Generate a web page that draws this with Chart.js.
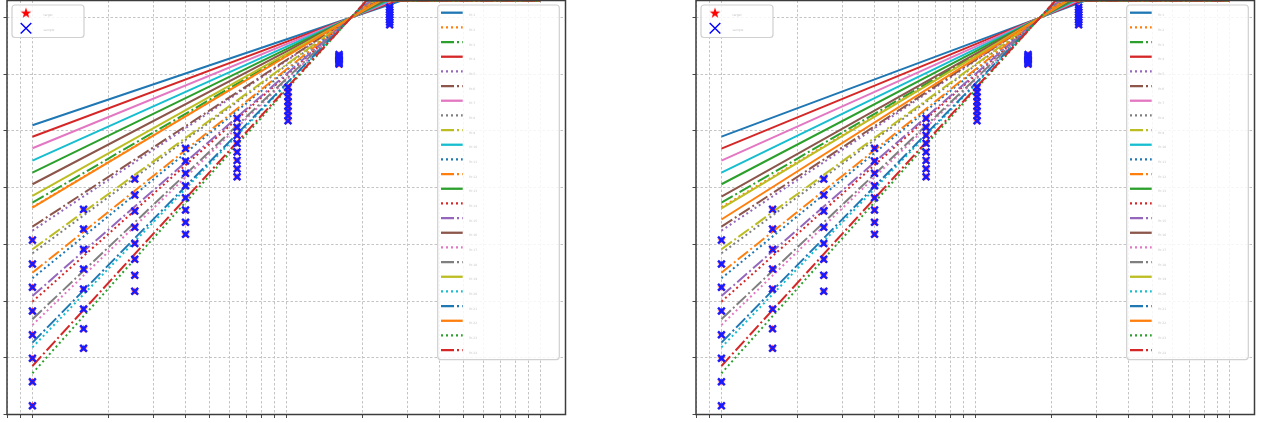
<!DOCTYPE html>
<html>
<head>
<meta charset="utf-8">
<title>Convergence fits</title>
<script src="https://cdn.jsdelivr.net/npm/chart.js@4.4.1/dist/chart.umd.min.js"></script>
<style>
  html, body { margin: 0; padding: 0; background: #ffffff; width: 1266px; height: 423px; overflow: hidden; }
  .panel { position: absolute; top: 0; width: 583px; height: 423px; }
  #panelLeft { left: 0; }
  #panelRight { left: 689px; }
</style>
</head>
<body>
<div class="panel" id="panelLeft"><canvas id="chartLeft" width="583" height="423"></canvas></div>
<div class="panel" id="panelRight"><canvas id="chartRight" width="583" height="423"></canvas></div>
<script>
// ---------------- data ----------------
// axis ticks (log x, log y)
const xTicks = [0.8, 0.9, 1, 2, 3, 4, 5, 6, 7, 8, 9, 10, 20, 30, 40, 50, 60, 70, 80, 90, 100];
const yTicks = [1e-5, 1e-4, 1e-3, 1e-2, 1e-1, 1, 10, 100];
const yTickExponents = ['\u22125', '\u22124', '\u22123', '\u22122', '\u22121', '0', '1', '2'];
const xRange = [0.794, 125.9];
const yRange = [1e-5, 200];

// every fitted line runs from x = 1 through the common point, then is capped
const xFirst = 1;
const xLast = 100;
const pivotX = 18;
const pivotY = 100;
const capY = 200;

const lineLabels = [
  'fit 1', 'fit 2', 'fit 3', 'fit 4', 'fit 5', 'fit 6', 'fit 7', 'fit 8',
  'fit 9', 'fit 10', 'fit 11', 'fit 12', 'fit 13', 'fit 14', 'fit 15', 'fit 16',
  'fit 17', 'fit 18', 'fit 19', 'fit 20', 'fit 21', 'fit 22', 'fit 23', 'fit 24'
];

// value of each line at x = 1
const startLeft = [
  1.26, 4.53e-2, 5.43e-2, 7.93e-1, 1.75e-2, 2.05e-2, 4.95e-1, 6.97e-3,
  8.20e-3, 2.99e-1, 2.52e-3, 3.17e-3, 1.84e-1, 9.76e-4, 1.23e-3, 1.15e-1,
  3.79e-4, 4.78e-4, 7.14e-2, 1.53e-4, 1.85e-4, 4.44e-2, 5.33e-5, 7.17e-5
];
const startRight = [
  7.94e-1, 4.53e-2, 5.43e-2, 4.87e-1, 1.75e-2, 2.05e-2, 2.99e-1, 6.97e-3,
  8.20e-3, 1.84e-1, 2.52e-3, 3.17e-3, 1.15e-1, 9.76e-4, 1.23e-3, 6.94e-2,
  3.79e-4, 4.78e-4, 4.33e-2, 1.53e-4, 1.85e-4, 2.75e-2, 5.33e-5, 7.17e-5
];

// x where each line reaches the cap
const capXLeft = [
  28.5, 23.3, 23.5, 27.2, 22.7, 22.8, 26.2, 22.2,
  22.3, 25.4, 21.7, 21.8, 24.7, 21.4, 21.5, 24.2,
  21.1, 21.2, 23.7, 20.9, 20.9, 23.3, 20.7, 20.7
];
const capXRight = [
  27.2, 23.3, 23.5, 26.2, 22.7, 22.8, 25.4, 22.2,
  22.3, 24.7, 21.7, 21.8, 24.2, 21.4, 21.5, 23.7,
  21.1, 21.2, 23.3, 20.9, 20.9, 23.0, 20.7, 20.7
];

// sampled points, eight runs per x position
const sampleX = [1.0, 1.59, 2.53, 4.01, 6.40, 10.16, 16.14, 25.55];
const sampleY = [
  [1.19e-2, 4.51e-3, 1.75e-3, 6.68e-4, 2.55e-4, 9.79e-5, 3.78e-5, 1.43e-5],
  [4.15e-2, 1.87e-2, 8.18e-3, 3.68e-3, 1.63e-3, 7.24e-4, 3.26e-4, 1.47e-4],
  [1.42e-1, 7.43e-2, 3.87e-2, 2.00e-2, 1.04e-2, 5.46e-3, 2.85e-3, 1.49e-3],
  [4.94e-1, 2.95e-1, 1.79e-1, 1.08e-1, 6.65e-2, 4.04e-2, 2.45e-2, 1.51e-2],
  [1.67, 1.16, 8.38e-1, 6.05e-1, 4.26e-1, 3.03e-1, 2.16e-1, 1.56e-1],
  [5.89, 4.86, 4.02, 3.30, 2.73, 2.25, 1.85, 1.52],
  [22.3, 21.1, 20.0, 18.9, 17.8, 16.9, 16.0, 15.1],
  [152, 137, 124, 112, 101, 91.6, 82.8, 74.8]
];
const markerLabels = ['target', 'sample'];
const yAxisTitle = 'error';

// ---------------- styles ----------------
const palette = ['#1f77b4', '#ff7f0e', '#2ca02c', '#d62728', '#9467bd',
                 '#8c564b', '#e377c2', '#7f7f7f', '#bcbd22', '#17becf'];
const dashCycle = [[], [2, 3], [13, 3, 2, 3]];
const gridColor = '#c4c4c4';
const textColor = '#c6c6c6';

function starImage(outer, color) {
  const size = Math.ceil(outer * 2 + 2);
  const c = document.createElement('canvas');
  c.width = size; c.height = size;
  const g = c.getContext('2d');
  const cx = size / 2, cy = size / 2 + outer * 0.08, inner = outer * 0.4;
  g.beginPath();
  for (let k = 0; k < 10; k++) {
    const r = k % 2 ? inner : outer;
    const a = -Math.PI / 2 + k * Math.PI / 5;
    g.lineTo(cx + r * Math.cos(a), cy + r * Math.sin(a));
  }
  g.closePath();
  g.fillStyle = color;
  g.fill();
  return c;
}
const starSmall = starImage(4.2, '#ff0000');
const starLegend = starImage(5.6, '#ff0000');

function buildDatasets(starts, capXs) {
  const sets = lineLabels.map((label, i) => ({
    type: 'line',
    label: label,
    data: [
      { x: xFirst, y: starts[i] },
      { x: pivotX, y: pivotY },
      { x: capXs[i], y: capY },
      { x: xLast, y: capY }
    ],
    borderColor: palette[i % palette.length],
    borderWidth: 2,
    borderDash: dashCycle[i % dashCycle.length],
    borderCapStyle: 'butt',
    borderJoinStyle: 'round',
    pointRadius: 0,
    tension: 0,
    fill: false,
    order: 2 + (lineLabels.length - 1 - i)
  }));
  const pts = [];
  sampleX.forEach((x, c) => sampleY[c].forEach(y => pts.push({ x: x, y: y })));
  sets.push({
    type: 'line', label: markerLabels[0], data: pts, showLine: false,
    pointStyle: starSmall, pointRadius: 4.2, order: 1
  });
  sets.push({
    type: 'line', label: markerLabels[1], data: pts, showLine: false,
    pointStyle: 'crossRot', pointRadius: 4.8, pointBorderWidth: 2.4,
    pointBorderColor: '#1a1aff', pointBackgroundColor: '#1a1aff', order: 0
  });
  return sets;
}

function roundBox(ctx, x, y, w, h, r) {
  ctx.beginPath();
  ctx.moveTo(x + r, y);
  ctx.arcTo(x + w, y, x + w, y + h, r);
  ctx.arcTo(x + w, y + h, x, y + h, r);
  ctx.arcTo(x, y + h, x, y, r);
  ctx.arcTo(x, y, x + w, y, r);
  ctx.closePath();
  ctx.fillStyle = 'rgba(255,255,255,0.85)';
  ctx.fill();
  ctx.lineWidth = 1.2;
  ctx.strokeStyle = '#d0d0d0';
  ctx.stroke();
}

// legends, axis frame and the small axis texts
const decorations = {
  id: 'decorations',
  afterDraw(chart) {
    const ctx = chart.ctx;
    const a = chart.chartArea;
    const sets = chart.data.datasets;
    ctx.save();

    // marker legend (upper left)
    roundBox(ctx, a.left + 5, a.top + 4.5, 72, 32.5, 3);
    ctx.drawImage(starLegend, a.left + 19 - starLegend.width / 2, a.top + 12.2 - starLegend.height / 2);
    ctx.beginPath();
    ctx.strokeStyle = '#0000ff';
    ctx.lineWidth = 1.4;
    const mx = a.left + 19, my = a.top + 27.8, h = 5.3;
    ctx.moveTo(mx - h, my - h); ctx.lineTo(mx + h, my + h);
    ctx.moveTo(mx - h, my + h); ctx.lineTo(mx + h, my - h);
    ctx.stroke();
    ctx.fillStyle = textColor;
    ctx.font = '3px "DejaVu Sans"';
    ctx.textBaseline = 'alphabetic';
    ctx.fillText(markerLabels[0], a.left + 36.5, a.top + 15.2);
    ctx.fillText(markerLabels[1], a.left + 36.5, a.top + 30.8);

    // line legend (upper right)
    const lx = a.left + 430.7, ly = a.top + 4.5;
    roundBox(ctx, lx, ly, 121.6, 354.6, 3);
    const lines = sets.filter(d => d.showLine !== false);
    lines.forEach((d, k) => {
      const y = a.top + 12.2 + 14.67 * k;
      ctx.beginPath();
      ctx.setLineDash(d.borderDash);
      ctx.lineDashOffset = 0;
      ctx.lineCap = 'butt';
      ctx.strokeStyle = d.borderColor;
      ctx.lineWidth = 2.3;
      ctx.moveTo(lx + 3.3, y);
      ctx.lineTo(lx + 25, y);
      ctx.stroke();
      ctx.setLineDash([]);
      ctx.fillStyle = textColor;
      ctx.fillText(d.label, lx + 31.6, y + 3.6);
    });

    // small tick texts and axis title left of the frame
    ctx.font = '2px "DejaVu Sans"';
    ctx.fillStyle = '#b8b8b8';
    const ys = chart.scales.y;
    yTicks.forEach((v, i) => {
      const py = ys.getPixelForValue(v);
      const shift = yTickExponents[i].length > 1 ? 5 : 0;
      ctx.fillText('10', a.left - 39.3 - shift, py + 4.8);
      ctx.fillText(yTickExponents[i], a.left - 22.7 - shift, py + 0.6);
    });
    ctx.save();
    ctx.translate(a.left - 51.5, a.top + 278);
    ctx.rotate(-Math.PI / 2);
    ctx.font = '3px "DejaVu Sans"';
    ctx.textAlign = 'center';
    ctx.fillText(yAxisTitle, 0, 0);
    ctx.restore();

    // axis frame
    ctx.lineWidth = 1.5;
    ctx.strokeStyle = '#3c3c3c';
    ctx.strokeRect(a.left, a.top, a.right - a.left, a.bottom - a.top);
    ctx.restore();
  }
};

function makeChart(canvasId, starts, capXs) {
  return new Chart(document.getElementById(canvasId), {
    type: 'line',
    data: { datasets: buildDatasets(starts, capXs) },
    options: {
      responsive: false,
      animation: false,
      events: [],
      layout: { autoPadding: false, padding: { left: 0, right: 17.5, top: 0.5, bottom: 0 } },
      plugins: { legend: { display: false }, tooltip: { enabled: false } },
      scales: {
        x: {
          type: 'logarithmic',
          min: xRange[0], max: xRange[1],
          afterBuildTicks: s => { s.ticks = xTicks.map(v => ({ value: v })); },
          afterFit: s => { s.height = 8.5; },
          ticks: { display: false },
          grid: { color: gridColor, lineWidth: 1, drawTicks: true, tickLength: 3.5,
                  tickColor: '#4a4a4a', tickWidth: 1, tickBorderDash: [] },
          border: { display: false, dash: [2.5, 2] }
        },
        y: {
          type: 'logarithmic',
          min: yRange[0], max: yRange[1],
          afterBuildTicks: s => { s.ticks = yTicks.map(v => ({ value: v })); },
          afterFit: s => { s.width = 7; },
          ticks: { display: false },
          grid: { color: gridColor, lineWidth: 1, drawTicks: true, tickLength: 3.5,
                  tickColor: '#4a4a4a', tickWidth: 1, tickBorderDash: [] },
          border: { display: false, dash: [2.5, 2] }
        }
      }
    },
    plugins: [decorations]
  });
}

makeChart('chartLeft', startLeft, capXLeft);
makeChart('chartRight', startRight, capXRight);
</script>
</body>
</html>
